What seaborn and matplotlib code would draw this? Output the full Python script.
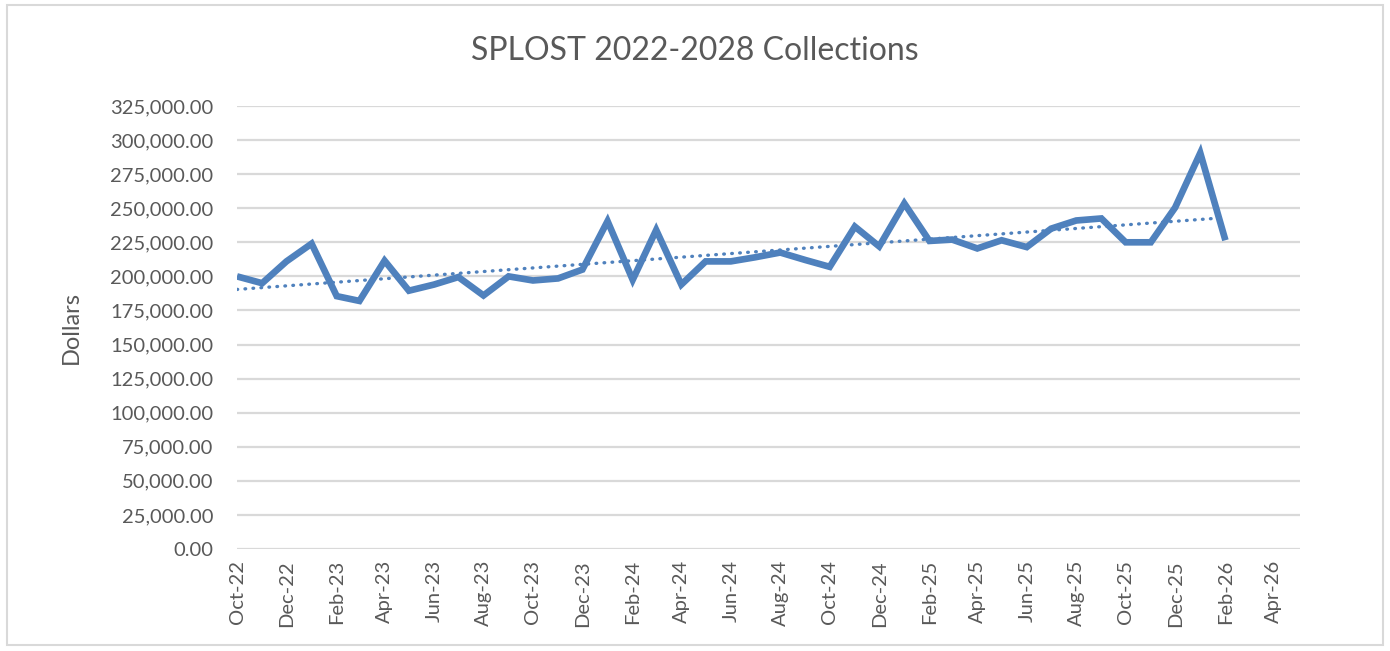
import matplotlib
matplotlib.use("Agg")
import matplotlib.pyplot as plt
import matplotlib.dates as mdates
from matplotlib.ticker import FuncFormatter, MultipleLocator
from matplotlib.patches import Rectangle
import numpy as np
import pandas as pd
import seaborn as sns

# Monthly SPLOST collections, Oct 2022 - Feb 2026 (dollars)
months = pd.date_range("2022-10-01", "2026-02-01", freq="MS")
collections = [
    200000, 195000, 211000, 224000, 185500, 182000, 211500, 189500, 194000, 199500,
    186000, 200000, 197000, 198500, 205000, 240500, 197500, 234000, 194000, 211000,
    211000, 214000, 217500, 212000, 207000, 236500, 222000, 253500, 226000, 227000,
    220500, 226500, 221500, 235000, 241000, 242500, 225000, 225000, 250500, 290500,
    226500,
]
title = "SPLOST 2022-2028 Collections"
y_label = "Dollars"

df = pd.DataFrame({"Month": months, "Collections": collections})

sns.set_theme(style="white")
plt.rcParams["font.family"] = ["Lato", "DejaVu Sans"]

text_color = "#595959"
grid_color = "#D9D9D9"
line_color = "#4F81BD"

fig = plt.figure(figsize=(13.9, 6.51), dpi=100)
ax = fig.add_axes([237 / 1390, 1 - 549 / 651, (1300 - 237) / 1390, (549 - 106) / 651])

sns.lineplot(data=df, x="Month", y="Collections", ax=ax, color=line_color,
             linewidth=4.8, solid_joinstyle="miter", solid_capstyle="butt")

# Linear trendline over the collection dates
xnum = mdates.date2num(df["Month"])
slope, intercept = np.polyfit(xnum, df["Collections"], 1)
trend = pd.DataFrame({"Month": df["Month"], "Trend": slope * xnum + intercept})
sns.lineplot(data=trend, x="Month", y="Trend", ax=ax, color=line_color,
             linewidth=2.4, linestyle=(0, (0.2, 2.2)), dash_capstyle="round")

ax.set_ylim(0, 325000)
ax.yaxis.set_major_locator(MultipleLocator(25000))
ax.yaxis.set_major_formatter(FuncFormatter(lambda v, p: f"{v:,.2f}"))

ax.set_xlim(mdates.date2num(pd.Timestamp("2022-10-01")),
            mdates.date2num(pd.Timestamp("2026-05-04")))
ax.xaxis.set_major_locator(mdates.MonthLocator(bymonth=[2, 4, 6, 8, 10, 12]))
ax.xaxis.set_major_formatter(mdates.DateFormatter("%b-%y"))

ax.grid(axis="y", color=grid_color, linewidth=1.6)
ax.grid(axis="x", visible=False)
ax.set_axisbelow(True)
for side in ["top", "right", "left", "bottom"]:
    ax.spines[side].set_visible(False)

ax.tick_params(axis="y", length=0, pad=17, labelsize=14.5, labelcolor=text_color)
ax.tick_params(axis="x", length=0, pad=8, labelsize=14.5, labelcolor=text_color)
for lbl in ax.get_xticklabels():
    lbl.set_rotation(90)
    lbl.set_va("top")
    lbl.set_ha("center")

ax.set_xlabel("")
ax.set_ylabel(y_label, fontsize=17, color=text_color)
ax.yaxis.set_label_coords((82 - 237) / (1300 - 237), 0.5)

fig.text(0.5, 1 - 51 / 651, title, ha="center", va="center",
         fontsize=23, color=text_color)

# Chart-area border
fig.patches.append(Rectangle((7 / 1390, 6 / 651), 1376 / 1390, 640 / 651,
                             transform=fig.transFigure, fill=False,
                             edgecolor=grid_color, linewidth=1.5))

fig.savefig("out.png", dpi=100)
